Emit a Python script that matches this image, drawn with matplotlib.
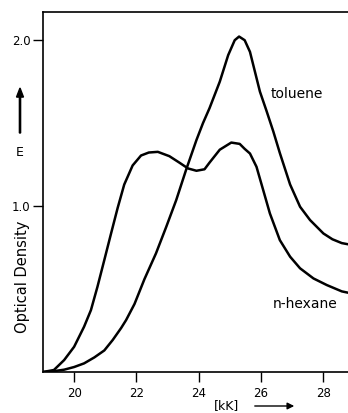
import matplotlib
matplotlib.use("Agg")
import matplotlib.pyplot as plt

# Wavenumber [kK] and optical density values
hexane_x = [19.0, 19.35, 19.68, 20.0, 20.32, 20.54, 20.75, 20.97, 21.18, 21.40, 21.61,
            21.88, 22.15, 22.4, 22.69, 23.06, 23.39, 23.66, 23.93, 24.19, 24.35, 24.68,
            25.05, 25.32, 25.48, 25.65, 25.86, 26.07, 26.29, 26.61, 26.94, 27.26, 27.69,
            28.12, 28.60, 28.8]
hexane_y = [0.0, 0.012, 0.072, 0.152, 0.273, 0.373, 0.514, 0.675, 0.83, 0.99, 1.13,
            1.245, 1.305, 1.323, 1.327, 1.301, 1.261, 1.227, 1.213, 1.222, 1.262, 1.34,
            1.383, 1.375, 1.345, 1.317, 1.237, 1.10, 0.956, 0.795, 0.695, 0.625, 0.564,
            0.524, 0.486, 0.478]

toluene_x = [19.0, 19.35, 19.68, 20.0, 20.32, 20.65, 20.97, 21.24, 21.51, 21.67, 21.94,
             22.26, 22.63, 22.96, 23.28, 23.60, 23.93, 24.14, 24.35, 24.68, 24.95, 25.16,
             25.30, 25.48, 25.65, 25.81, 25.97, 26.18, 26.40, 26.61, 26.94, 27.26, 27.58,
             28.01, 28.30, 28.60, 28.8]
toluene_y = [0.0, 0.005, 0.014, 0.03, 0.052, 0.088, 0.13, 0.193, 0.265, 0.313, 0.41,
             0.56, 0.715, 0.875, 1.036, 1.22, 1.398, 1.50, 1.59, 1.75, 1.91, 2.0,
             2.022, 2.0, 1.93, 1.81, 1.69, 1.575, 1.45, 1.32, 1.13, 0.996, 0.916,
             0.835, 0.80, 0.777, 0.77]

x_ticks = [20, 22, 24, 26, 28]
y_ticks = [1.0, 2.0]
y_ticklabels = ["1.0", "2.0"]
series_labels = ["toluene", "n-hexane"]

W, H = 348, 413
fig = plt.figure(figsize=(W / 100, H / 100), dpi=100)
ax = fig.add_axes([43 / W, 41 / H, (W - 43) / W, (372 - 12) / H])

for xs, ys in [(hexane_x, hexane_y), (toluene_x, toluene_y)]:
    ax.plot(xs, ys, color="black", lw=1.8, solid_capstyle="round",
            solid_joinstyle="round")

ax.set_xlim(19.0, 28.8)
ax.set_ylim(0, 2.17)
ax.set_xticks(x_ticks)
ax.set_yticks(y_ticks)
ax.set_yticklabels(y_ticklabels)
ax.tick_params(direction="out", length=7, width=1.0, labelsize=8.5, colors="black")
ax.tick_params(axis="x", pad=4)
ax.tick_params(axis="y", pad=2)
for s in ["left", "bottom", "top"]:
    ax.spines[s].set_linewidth(1.2)
ax.spines["right"].set_visible(False)

ax.text(27.16, 1.675, series_labels[0], fontsize=10, ha="center", va="center")
ax.text(27.42, 0.41, series_labels[1], fontsize=10, ha="center", va="center")

def fx(px):
    return px / W

def fy(py):
    return (H - py) / H

fig.text(fx(22), fy(277), "Optical Density", rotation=90, fontsize=10.5,
         ha="center", va="center")
fig.text(fx(20), fy(153), "E", fontsize=9, ha="center", va="center")
fig.patches.append(matplotlib.patches.FancyArrow(
    fx(20), fy(133), 0, fy(88) - fy(133), width=0.0035, head_width=0.02,
    head_length=0.022, length_includes_head=True, color="black",
    transform=fig.transFigure))
fig.text(fx(227), fy(406), "[kK]", fontsize=9, ha="center", va="center")
fig.add_artist(matplotlib.patches.FancyArrowPatch(
    (fx(252), fy(406)), (fx(297), fy(406)), arrowstyle="-|>,head_length=4,head_width=2",
    lw=1.0, color="black", transform=fig.transFigure))

fig.savefig("out.png", dpi=100)
